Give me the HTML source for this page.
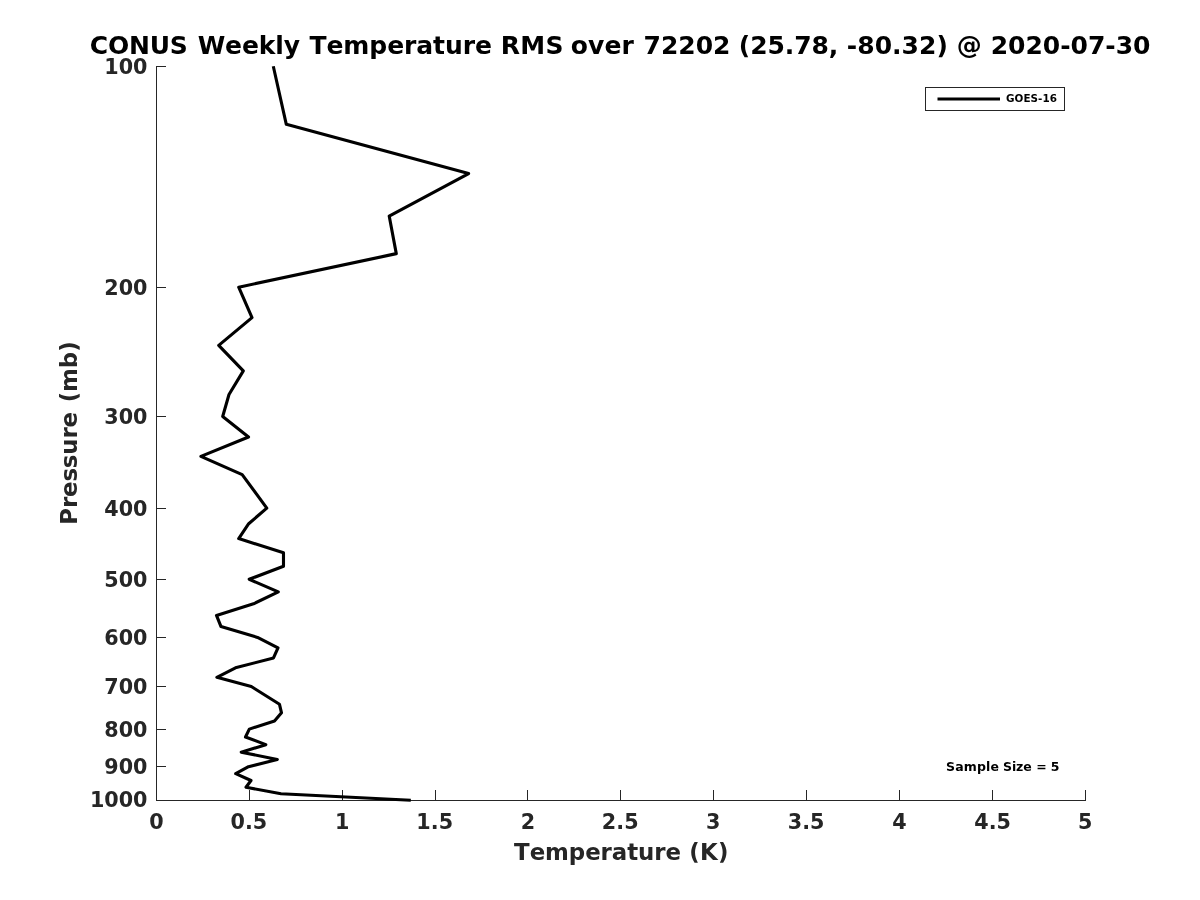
<!DOCTYPE html>
<html lang="en"><head><meta charset="utf-8"><title>CONUS Weekly Temperature RMS</title>
<style>
html,body{margin:0;padding:0;background:#fff;}
body{width:1200px;height:900px;overflow:hidden;}
svg{display:block;font-family:"DejaVu Sans","Liberation Sans",sans-serif;font-weight:bold;font-kerning:none;}
.ax{fill:#262626;shape-rendering:crispEdges;}
.tl{fill:#262626;font-size:20.7px;}
.lab{fill:#262626;font-size:22.9px;}
.title{fill:#000;font-size:25px;}
.leg{fill:#000;font-size:10.4px;}
.note{fill:#000;font-size:12.5px;}
</style></head><body>
<svg width="1200" height="900" viewBox="0 0 1200 900">
<rect width="1200" height="900" fill="#fff"/>

<g class="ax">
<rect x="156" y="66" width="1" height="735"/>
<rect x="156" y="800" width="930" height="1"/>
<rect x="156" y="790" width="1" height="10"/>
<rect x="249" y="790" width="1" height="10"/>
<rect x="342" y="790" width="1" height="10"/>
<rect x="435" y="790" width="1" height="10"/>
<rect x="527" y="790" width="1" height="10"/>
<rect x="620" y="790" width="1" height="10"/>
<rect x="713" y="790" width="1" height="10"/>
<rect x="806" y="790" width="1" height="10"/>
<rect x="899" y="790" width="1" height="10"/>
<rect x="992" y="790" width="1" height="10"/>
<rect x="1085" y="790" width="1" height="10"/>
<rect x="157" y="66" width="9" height="1"/>
<rect x="157" y="287" width="9" height="1"/>
<rect x="157" y="416" width="9" height="1"/>
<rect x="157" y="508" width="9" height="1"/>
<rect x="157" y="579" width="9" height="1"/>
<rect x="157" y="637" width="9" height="1"/>
<rect x="157" y="686" width="9" height="1"/>
<rect x="157" y="729" width="9" height="1"/>
<rect x="157" y="766" width="9" height="1"/>
<rect x="157" y="800" width="9" height="1"/>
</g>
<g class="tl" text-anchor="middle">
<text transform="matrix(1 0 0 1.0 156.50 829.1)">0</text>
<text transform="matrix(1 0 0 1.0 248.90 829.1)">0.5</text>
<text transform="matrix(1 0 0 1.0 342.10 829.1)">1</text>
<text transform="matrix(1 0 0 1.0 434.70 829.1)">1.5</text>
<text transform="matrix(1 0 0 1.0 528.00 829.1)">2</text>
<text transform="matrix(1 0 0 1.0 620.20 829.1)">2.5</text>
<text transform="matrix(1 0 0 1.0 713.30 829.1)">3</text>
<text transform="matrix(1 0 0 1.0 806.10 829.1)">3.5</text>
<text transform="matrix(1 0 0 1.0 899.40 829.1)">4</text>
<text transform="matrix(1 0 0 1.0 992.60 829.1)">4.5</text>
<text transform="matrix(1 0 0 1.0 1085.20 829.1)">5</text>
</g>
<g class="tl" text-anchor="end">
<text transform="matrix(1 0 0 1.0 147.5 74)">100</text>
<text transform="matrix(1 0 0 1.0 147.5 295)">200</text>
<text transform="matrix(1 0 0 1.0 147.5 424)">300</text>
<text transform="matrix(1 0 0 1.0 147.5 516)">400</text>
<text transform="matrix(1 0 0 1.0 147.5 587)">500</text>
<text transform="matrix(1 0 0 1.0 147.5 645)">600</text>
<text transform="matrix(1 0 0 1.0 147.5 694)">700</text>
<text transform="matrix(1 0 0 1.0 147.5 737)">800</text>
<text transform="matrix(1 0 0 1.0 147.5 774)">900</text>
<text transform="matrix(1 0 0 1.0 147.5 807.3)">1000</text>
</g>
<text class="title" transform="matrix(1 0 0 1.0 0 54.3)"><tspan x="89.83" style="letter-spacing:-0.2px">CONUS</tspan> <tspan x="197.67" style="letter-spacing:-0.14px">Weekly</tspan> <tspan x="309.5" style="letter-spacing:-0.08px">Temperature</tspan> <tspan x="500.83" style="letter-spacing:0.233px">RMS</tspan> <tspan x="570.83" style="letter-spacing:0.067px">over</tspan> <tspan x="643.5" style="letter-spacing:-0.008px">72202</tspan> <tspan x="738.83" style="letter-spacing:-0.078px">(25.78,</tspan> <tspan x="846.83" style="letter-spacing:0.028px">-80.32)</tspan> <tspan x="956.83">@</tspan> <tspan x="990.67" style="letter-spacing:-0.015px">2020-07-30</tspan></text>
<text class="lab" transform="matrix(1 0 0 0.97 0 859.7)"><tspan x="514.1" style="letter-spacing:-0.077px">Temperature</tspan> <tspan x="689.33" style="letter-spacing:0.217px">(K)</tspan></text>
<text class="lab" transform="translate(77,600) rotate(-90)" y="0"><tspan x="75.33" style="letter-spacing:-0.181px">Pressure</tspan> <tspan x="197.67" style="letter-spacing:-0.067px">(mb)</tspan></text>
<polyline points="273.29,66.25 286.30,124.37 468.61,173.51 389.20,216.07 396.29,253.62 238.70,287.21 252.00,317.59 218.71,345.33 243.31,370.84 229.00,394.46 222.70,416.46 248.51,437.03 200.91,456.36 242.19,474.58 266.79,508.16 248.69,523.71 238.70,538.54 283.49,552.71 283.49,566.28 249.20,579.29 278.29,591.80 253.51,603.83 216.49,615.42 220.99,626.61 257.50,637.41 277.99,647.87 273.50,657.99 235.50,667.80 216.90,677.31 251.30,686.55 279.50,704.27 281.51,712.77 274.50,721.05 249.31,729.12 245.50,736.99 265.81,744.67 241.21,752.17 277.31,759.50 248.51,766.66 235.71,773.67 251.00,780.53 246.00,787.24 281.00,793.81 410.80,800.25" fill="none" stroke="#000" stroke-width="3.1" stroke-linejoin="round"/>
<rect x="925.5" y="87.5" width="139" height="23" fill="#fff" stroke="#262626" stroke-width="1" shape-rendering="crispEdges"/>
<line x1="937.5" y1="99" x2="1000" y2="99" stroke="#000" stroke-width="3.1"/>
<text class="leg" transform="matrix(1 0 0 0.93 0 101.7)"><tspan x="1006.0" style="letter-spacing:0.044px">GOES-16</tspan></text>
<text class="note" y="770.5"><tspan x="946.03" style="letter-spacing:0.147px">Sample</tspan> <tspan x="1003.03" style="letter-spacing:-0.133px">Size</tspan> <tspan x="1036.2">=</tspan> <tspan x="1050.87">5</tspan></text>
</svg></body></html>
